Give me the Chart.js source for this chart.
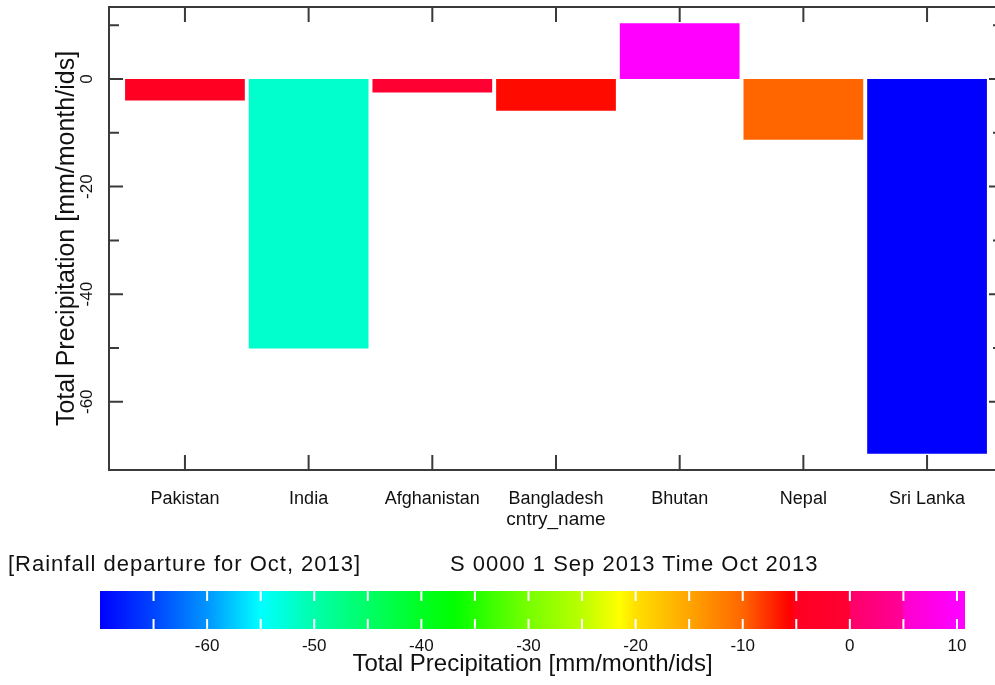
<!DOCTYPE html>
<html>
<head>
<meta charset="utf-8">
<script src="https://cdn.jsdelivr.net/npm/chart.js@4.4.1/dist/chart.umd.min.js"></script>
<style>
  html, body { margin: 0; padding: 0; background: #fff; overflow: hidden; }
  #page { position: relative; width: 995px; height: 685px; overflow: hidden; }
  #main { position: absolute; left: 0; top: 0; width: 1012px; height: 540px; }
  #cb { position: absolute; left: 0; top: 540px; width: 995px; height: 145px; }
  .note { position: absolute; top: 552px; font: 22px "Liberation Sans", Arial, sans-serif;
          letter-spacing: 1px; color: #111; line-height: 24px; white-space: nowrap; }
</style>
</head>
<body>
<div id="page">
  <div id="main"><canvas id="bar"></canvas></div>
  <div id="cb"><canvas id="colorbar"></canvas></div>
  <div class="note" style="left:8px">[Rainfall departure for Oct, 2013]</div>
  <div class="note" style="left:450px">S 0000 1 Sep 2013 Time Oct 2013</div>
</div>
<script>
const countries = ["Pakistan", "India", "Afghanistan", "Bangladesh", "Bhutan", "Nepal", "Sri Lanka"];
const departures = [-4.0, -50.1, -2.5, -5.9, 10.4, -11.3, -69.7];
const barColors = ["#ff0022", "#00ffcc", "#ff0033", "#ff0a00", "#ff00ff", "#ff6600", "#0000ff"];
const yMajorTicks = [0, -20, -40, -60];
const yMinorTicks = [10, -10, -30, -50];

const cbMin = -70, cbMax = 10.75;
const cbTicks = [-60, -50, -40, -30, -20, -10, 0, 10];
const cbDividers = [-65, -60, -55, -50, -45, -40, -35, -30, -25, -20, -15, -10, -5, 0, 5, 10];
const cbStops = [
  [-70, "#0000ff"], [-65, "#0044ff"], [-60, "#0095ff"], [-55, "#00ffff"],
  [-50, "#00ffaa"], [-45, "#00ff66"], [-40, "#00ff22"], [-37, "#00ff00"],
  [-35, "#22ff00"], [-30, "#77ff00"], [-25, "#bbff00"], [-21.5, "#ffff00"],
  [-20, "#ffe000"], [-15, "#ffa500"], [-10, "#ff6600"], [-5.6, "#ff0000"],
  [-5, "#ff0022"], [0, "#ff0033"], [0.01, "#ff0066"], [5, "#ff0099"],
  [5.01, "#ff00cc"], [10, "#ff00ff"], [10.75, "#ff00ff"]
];

const txt = "#111";
const sans = '"Liberation Sans", Arial, sans-serif';

// frame with inward ticks + rotated y labels
const framePlugin = {
  id: "frame",
  afterDraw(chart) {
    const { ctx, chartArea: a, scales: { x, y } } = chart;
    ctx.save();
    ctx.strokeStyle = "#3a3a3a";
    ctx.lineWidth = 2;
    ctx.strokeRect(a.left, a.top, a.right - a.left, a.bottom - a.top);
    ctx.beginPath();
    yMajorTicks.forEach(v => {
      const p = y.getPixelForValue(v);
      ctx.moveTo(a.left, p); ctx.lineTo(a.left + 14, p);
      ctx.moveTo(a.right, p); ctx.lineTo(a.right - 14, p);
    });
    yMinorTicks.forEach(v => {
      const p = y.getPixelForValue(v);
      ctx.moveTo(a.left, p); ctx.lineTo(a.left + 10, p);
      ctx.moveTo(a.right, p); ctx.lineTo(a.right - 10, p);
    });
    countries.forEach((c, i) => {
      const p = x.getPixelForValue(i + 1);
      ctx.moveTo(p, a.top); ctx.lineTo(p, a.top + 15);
      ctx.moveTo(p, a.bottom); ctx.lineTo(p, a.bottom - 15);
    });
    ctx.stroke();

    ctx.fillStyle = txt;
    ctx.font = "17px " + sans;
    ctx.textAlign = "center";
    ctx.textBaseline = "middle";
    yMajorTicks.forEach(v => {
      ctx.save();
      ctx.translate(a.left - 22, y.getPixelForValue(v));
      ctx.rotate(-Math.PI / 2);
      ctx.fillText(String(v), 0, 0);
      ctx.restore();
    });
    ctx.restore();
  }
};

new Chart(document.getElementById("bar"), {
  type: "bar",
  data: {
    datasets: [{
      data: countries.map((c, i) => ({ x: i + 1, y: departures[i] })),
      backgroundColor: barColors,
      borderWidth: 0,
      barPercentage: 0.968,
      categoryPercentage: 1
    }]
  },
  options: {
    responsive: true,
    maintainAspectRatio: false,
    animation: false,
    layout: { padding: { left: 0, top: 7, right: 9, bottom: 0 } },
    plugins: { legend: { display: false }, tooltip: { enabled: false } },
    scales: {
      x: {
        type: "linear",
        min: 0.386,
        max: 7.614,
        offset: false,
        afterBuildTicks: s => { s.ticks = countries.map((c, i) => ({ value: i + 1 })); },
        afterFit: s => { s.height = 70; },
        grid: { display: false, drawTicks: false },
        border: { display: false },
        ticks: {
          callback: v => countries[v - 1],
          autoSkip: false, maxRotation: 0,
          padding: 18,
          color: txt,
          font: { family: sans, size: 18 }
        },
        title: {
          display: true, text: "cntry_name", color: txt,
          font: { family: sans, size: 19 },
          padding: { top: 0, bottom: 9 }
        }
      },
      y: {
        min: -72.7,
        max: 13.4,
        afterFit: s => { s.width = 109; },
        grid: { display: false, drawTicks: false },
        border: { display: false },
        ticks: { display: false },
        title: {
          display: true, text: "Total Precipitation [mm/month/ids]", color: txt,
          font: { family: sans, size: 25 },
          padding: { top: 52, bottom: 0 }
        }
      }
    }
  },
  plugins: [framePlugin]
});

function colorbarFill(context) {
  const chart = context.chart;
  if (!chart.chartArea) return null;
  const x = chart.scales.x;
  const g = chart.ctx.createLinearGradient(x.getPixelForValue(cbMin), 0, x.getPixelForValue(cbMax), 0);
  cbStops.forEach(([v, c]) => g.addColorStop((v - cbMin) / (cbMax - cbMin), c));
  return g;
}

const dividerPlugin = {
  id: "dividers",
  afterDatasetsDraw(chart) {
    const { ctx, chartArea: a, scales: { x } } = chart;
    ctx.save();
    ctx.strokeStyle = "#ffffff";
    ctx.lineWidth = 2;
    ctx.beginPath();
    cbDividers.forEach(v => {
      const p = x.getPixelForValue(v);
      ctx.moveTo(p, a.top); ctx.lineTo(p, a.top + 10);
      ctx.moveTo(p, a.bottom); ctx.lineTo(p, a.bottom - 10);
    });
    ctx.stroke();
    ctx.restore();
  }
};

new Chart(document.getElementById("colorbar"), {
  type: "bar",
  data: {
    labels: ["cb"],
    datasets: [{
      data: [[cbMin, cbMax]],
      backgroundColor: colorbarFill,
      borderWidth: 0,
      barPercentage: 1,
      categoryPercentage: 1
    }]
  },
  options: {
    indexAxis: "y",
    responsive: true,
    maintainAspectRatio: false,
    animation: false,
    layout: { padding: { left: 100, right: 30, top: 51, bottom: 0 } },
    plugins: { legend: { display: false }, tooltip: { enabled: false } },
    scales: {
      x: {
        type: "linear",
        min: cbMin,
        max: cbMax,
        afterBuildTicks: s => { s.ticks = cbTicks.map(v => ({ value: v })); },
        afterFit: s => { s.height = 56; },
        grid: { display: false, drawTicks: false },
        border: { display: false },
        ticks: { padding: 7, color: txt, font: { family: sans, size: 17 }, autoSkip: false, maxRotation: 0 },
        title: {
          display: true, text: "Total Precipitation [mm/month/ids]", color: txt,
          font: { family: sans, size: 24 },
          padding: { top: 0, bottom: 6 }
        }
      },
      y: { display: false }
    }
  },
  plugins: [dividerPlugin]
});
</script>
</body>
</html>
